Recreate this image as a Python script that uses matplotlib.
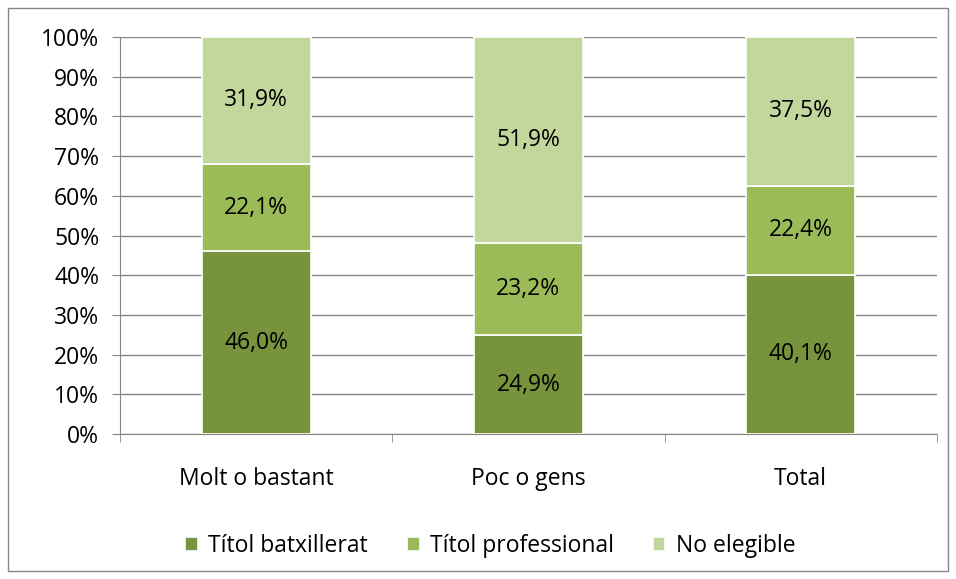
import numpy as np
import matplotlib.pyplot as plt
from matplotlib.patches import Rectangle

plt.rcParams['font.family'] = ['Open Sans', 'DejaVu Sans']

categories = ['Molt o bastant', 'Poc o gens', 'Total']
series = ['Títol batxillerat', 'Títol professional', 'No elegible']
batxillerat = [46.0, 24.9, 40.1]
professional = [22.1, 23.2, 22.4]
no_elegible = [31.9, 51.9, 37.5]
colors = ['#77933C', '#9BBB59', '#C3D69B']
fs = 16.5

fig = plt.figure(figsize=(9.56, 5.79), dpi=100)
ax = fig.add_axes([0.1255, 0.2504, 0.8545, 0.6857])

# marc exterior
fig.patches.append(Rectangle((8 / 956, 8 / 579), 940 / 956, 563 / 579,
                             transform=fig.transFigure, fill=False,
                             edgecolor='#868686', linewidth=1))

x = np.arange(len(categories))
bottom = np.zeros(len(categories))
for vals, name, c in zip([batxillerat, professional, no_elegible], series, colors):
    bars = ax.bar(x, vals, width=0.4, bottom=bottom, color=c, label=name,
                  edgecolor='white', linewidth=1.2, zorder=3)
    for xi, b, v in zip(x, bottom, vals):
        ax.text(xi, b + v / 2, f'{v:.1f}%'.replace('.', ','), ha='center',
                va='center', fontsize=fs, color='black', zorder=4)
    bottom += np.array(vals)

ax.set_xlim(-0.5, 2.5)
ax.set_ylim(0, 100)
ax.set_yticks(np.arange(0, 101, 10))
ax.set_yticklabels([f'{v}%' for v in range(0, 101, 10)], fontsize=fs)
ax.yaxis.grid(True, color='#868686', linewidth=1, zorder=0)
ax.set_xticks(x)
ax.set_xticklabels(categories, fontsize=fs)
ax.set_xticks([-0.5, 0.5, 1.5, 2.5], minor=True)
ax.tick_params(axis='x', which='major', length=0, pad=24)
ax.tick_params(axis='x', which='minor', length=6, color='#868686', direction='out')
ax.tick_params(axis='y', length=6, color='#868686', pad=9)
for s in ['top', 'right']:
    ax.spines[s].set_visible(False)
ax.spines['left'].set_color('#868686')
ax.spines['bottom'].set_color('#868686')

fig.legend(loc='center', bbox_to_anchor=(0.513, 1 - 546 / 579), ncol=3,
           frameon=False, fontsize=fs, handlelength=0.55, handleheight=0.55,
           columnspacing=1.7, handletextpad=0.45)

fig.savefig('out.png', dpi=100)
